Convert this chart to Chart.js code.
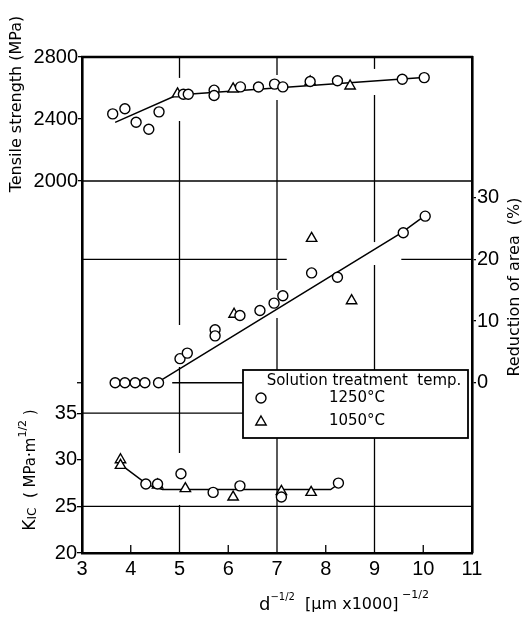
<!DOCTYPE html>
<html>
<head>
<meta charset="utf-8">
<script src="https://cdn.jsdelivr.net/npm/chart.js@4/dist/chart.umd.min.js"></script>
<style>
  body { margin: 0; background: #fff; }
  #wrap { width: 526px; height: 617px; }
</style>
</head>
<body>
<div id="wrap"><canvas id="chart"></canvas></div>
<script>
// tensile strength (MPa)
const ts1250X = [3.63, 3.88, 4.11, 4.37, 4.58, 5.08, 5.18, 5.71, 5.71, 6.25, 6.62, 6.95, 7.12, 7.68, 8.24, 9.57, 10.02];
const ts1250Y = [2433, 2466, 2379, 2334, 2446, 2560, 2560, 2586, 2552, 2607, 2606, 2625, 2607, 2642, 2647, 2656, 2667];
const ts1050X = [4.96, 6.10, 7.68, 8.50];
const ts1050Y = [2562, 2594, 2640, 2613];
const tsFitX = [3.68, 4.95, 10.0];
const tsFitY = [2378, 2555, 2668];

// reduction of area (%)
const ra1250X = [3.68, 3.88, 4.09, 4.29, 4.57, 5.01, 5.16, 5.73, 5.73, 6.24, 6.65, 6.94, 7.12, 7.71, 8.24, 9.59, 10.04];
const ra1250Y = [0, 0, 0, 0, 0, 3.9, 4.8, 8.6, 7.6, 10.9, 11.7, 12.9, 14.1, 17.8, 17.1, 24.3, 27.0];
const ra1050X = [6.12, 7.71, 8.53];
const ra1050Y = [11.1, 23.4, 13.3];
const raFitX = [4.6, 9.55, 10.0];
const raFitY = [0.3, 24.3, 26.9];

// KIC (MPa m^1/2)
const k1250X = [4.31, 4.55, 5.03, 5.69, 6.24, 7.09, 8.26];
const k1250Y = [27.4, 27.4, 28.5, 26.5, 27.2, 26.0, 27.5];
const k1050X = [3.79, 3.79, 4.55, 5.12, 6.10, 7.09, 7.70];
const k1050Y = [30.0, 29.4, 27.3, 26.9, 26.0, 26.6, 26.5];
const kFitX = [3.79, 4.35, 4.65, 8.10, 8.26];
const kFitY = [29.5, 27.3, 26.8, 26.8, 27.4];

// tick labels
const xTicks = [3, 4, 5, 6, 7, 8, 9, 10, 11];
const tsTicks = [2000, 2400, 2800];
const raTicks = [0, 10, 20, 30];
const kTicks = [20, 25, 30, 35];

const pts = (xs, ys) => xs.map((x, i) => ({x: x, y: ys[i]}));

// gridline pieces (the original lines stop short around the data)
const hGrid = [
  {axis: 'yTS', v: 2000, x0: 3, x1: 11},
  {axis: 'yRA', v: 20, x0: 3, x1: 7.2},
  {axis: 'yRA', v: 20, x0: 9.55, x1: 11},
  {axis: 'yRA', v: 0, x0: 4.85, x1: 6.4},
  {axis: 'yK', v: 35, x0: 3, x1: 6.4},
  {axis: 'yK', v: 25, x0: 3, x1: 11}
];
// vertical pieces in units of the tensile axis, which spans the full height
const vGrid = [
  {x: 5, segs: [[2800, 2665], [2387, 1071], [800, 245], [-90, -400]]},
  {x: 7, segs: [[2800, 2684], [2523, 1297], [1116, -400]]},
  {x: 9, segs: [[2800, 2723], [2555, 1606], [1458, -400]]}
];

const FONT = '"DejaVu Sans", sans-serif';
const tickFont = {family: '"Liberation Sans", Arial, sans-serif', size: 20};

function drawRuns(ctx, runs, cx, cy, rot) {
  ctx.save();
  ctx.translate(cx, cy);
  ctx.rotate(rot);
  ctx.textBaseline = 'middle';
  ctx.fillStyle = '#000';
  let w = 0;
  runs.forEach(r => {
    ctx.font = r.size + 'px ' + FONT;
    r.w = ctx.measureText(r.t).width;
    w += r.w;
  });
  let x = -w / 2;
  runs.forEach(r => {
    ctx.font = r.size + 'px ' + FONT;
    ctx.fillText(r.t, x, r.dy || 0);
    x += r.w;
  });
  ctx.restore();
}

function marker(ctx, style, x, y, r) {
  ctx.beginPath();
  if (style === 'circle') {
    ctx.arc(x, y, r, 0, Math.PI * 2);
  } else {
    let a = 0;
    ctx.moveTo(x + Math.sin(a) * r, y - Math.cos(a) * r);
    a += Math.PI * 2 / 3;
    ctx.lineTo(x + Math.sin(a) * r, y - Math.cos(a) * r);
    a += Math.PI * 2 / 3;
    ctx.lineTo(x + Math.sin(a) * r, y - Math.cos(a) * r);
    ctx.closePath();
  }
  ctx.fillStyle = '#fff';
  ctx.fill();
  ctx.lineWidth = 1.4;
  ctx.strokeStyle = '#000';
  ctx.stroke();
}

// the KIC axis takes no room of its own, but its labels must not be clipped
const kAxisPlugin = {
  id: 'kAxisRoom',
  afterLayout(chart) {
    chart.scales.yK.left = 0;
  }
};

const gridPlugin = {
  id: 'gridPieces',
  beforeDatasetsDraw(chart) {
    const ctx = chart.ctx, a = chart.chartArea, sx = chart.scales.x;
    ctx.save();
    ctx.strokeStyle = '#000';
    ctx.lineWidth = 1.3;
    hGrid.forEach(g => {
      const y = chart.scales[g.axis].getPixelForValue(g.v);
      ctx.beginPath();
      ctx.moveTo(sx.getPixelForValue(g.x0), y);
      ctx.lineTo(sx.getPixelForValue(g.x1), y);
      ctx.stroke();
    });
    vGrid.forEach(g => {
      const x = sx.getPixelForValue(g.x);
      g.segs.forEach(s => {
        ctx.beginPath();
        ctx.moveTo(x, chart.scales.yTS.getPixelForValue(s[0]));
        ctx.lineTo(x, chart.scales.yTS.getPixelForValue(s[1]));
        ctx.stroke();
      });
    });
    // short inward ticks on the bottom axis
    [4, 6, 8, 10].forEach(v => {
      const x = sx.getPixelForValue(v);
      ctx.beginPath();
      ctx.moveTo(x, a.bottom);
      ctx.lineTo(x, a.bottom - 8);
      ctx.stroke();
    });
    // small tick at 0 % on the left frame
    const y0 = chart.scales.yRA.getPixelForValue(0);
    ctx.beginPath();
    ctx.moveTo(a.left - 5, y0);
    ctx.lineTo(a.left, y0);
    ctx.stroke();
    // top frame
    ctx.lineWidth = 2.6;
    ctx.beginPath();
    ctx.moveTo(a.left - 1, a.top);
    ctx.lineTo(a.right + 1, a.top);
    ctx.stroke();
    ctx.restore();
  }
};

const legendPlugin = {
  id: 'boxLegend',
  afterDatasetsDraw(chart) {
    const ctx = chart.ctx, a = chart.chartArea;
    const L = a.left + 161, T = a.top + 313, W = 225, H = 68;
    ctx.save();
    ctx.fillStyle = '#fff';
    ctx.fillRect(L, T, W, H);
    ctx.strokeStyle = '#000';
    ctx.lineWidth = 1.8;
    ctx.strokeRect(L, T, W, H);
    ctx.fillStyle = '#000';
    ctx.textBaseline = 'middle';
    ctx.textAlign = 'center';
    ctx.font = '15px ' + FONT;
    ctx.fillText('Solution treatment  temp.', L + 121, T + 11);
    ctx.fillText('1250°C', L + 114, T + 28);
    ctx.fillText('1050°C', L + 114, T + 51);
    marker(ctx, 'circle', L + 18, T + 28, 5);
    marker(ctx, 'triangle', L + 18, T + 52, 6);
    ctx.restore();
  }
};

const titlePlugin = {
  id: 'axisTitles',
  afterDraw(chart) {
    const ctx = chart.ctx;
    drawRuns(ctx, [{t: 'Tensile strength (MPa)', size: 16}], 17, 104, -Math.PI / 2);
    drawRuns(ctx, [{t: 'Reduction of area  (%)', size: 16}], 515, 287, -Math.PI / 2);
    drawRuns(ctx, [
      {t: 'K', size: 17},
      {t: 'IC', size: 12, dy: 2},
      {t: '  ( MPa·m', size: 15},
      {t: '1/2', size: 11, dy: -8},
      {t: ' )', size: 15}
    ], 31, 470, -Math.PI / 2);
    drawRuns(ctx, [
      {t: 'd', size: 18},
      {t: '−1/2', size: 10, dy: -8},
      {t: '  [μm x1000]', size: 16},
      {t: ' −1/2', size: 11, dy: -10}
    ], 344, 605, 0);
  }
};

const circleSet = (label, data, axis) => ({
  label: label, data: data, yAxisID: axis,
  pointStyle: 'circle', pointRadius: 5, pointBorderWidth: 1.4,
  pointBackgroundColor: '#fff', pointBorderColor: '#000'
});
const triSet = (label, data, axis) => ({
  label: label, data: data, yAxisID: axis,
  pointStyle: 'triangle', pointRadius: 6, pointBorderWidth: 1.4,
  pointBackgroundColor: '#fff', pointBorderColor: '#000'
});
const fitSet = (data, axis) => ({
  label: 'fit', data: data, yAxisID: axis, showLine: true,
  pointRadius: 0, borderColor: '#000', borderWidth: 1.5
});

const ctx = document.getElementById('chart').getContext('2d');
new Chart(ctx, {
  type: 'scatter',
  data: {
    datasets: [
      circleSet('TS 1250°C', pts(ts1250X, ts1250Y), 'yTS'),
      triSet('TS 1050°C', pts(ts1050X, ts1050Y), 'yTS'),
      circleSet('RA 1250°C', pts(ra1250X, ra1250Y), 'yRA'),
      triSet('RA 1050°C', pts(ra1050X, ra1050Y), 'yRA'),
      circleSet('KIC 1250°C', pts(k1250X, k1250Y), 'yK'),
      triSet('KIC 1050°C', pts(k1050X, k1050Y), 'yK'),
      fitSet(pts(tsFitX, tsFitY), 'yTS'),
      fitSet(pts(raFitX, raFitY), 'yRA'),
      fitSet(pts(kFitX, kFitY), 'yK')
    ]
  },
  options: {
    responsive: true,
    maintainAspectRatio: false,
    animation: false,
    layout: {padding: {top: 57, left: 0, right: 0, bottom: 0}},
    plugins: {legend: {display: false}, tooltip: {enabled: false}},
    scales: {
      x: {
        type: 'linear', min: 3, max: 11,
        afterBuildTicks: s => { s.ticks = xTicks.map(v => ({value: v})); },
        afterFit: s => { s.height = 64; },
        ticks: {font: tickFont, color: '#000', padding: 4, maxRotation: 0, callback: v => String(v)},
        grid: {drawOnChartArea: false, drawTicks: false},
        border: {display: true, color: '#000', width: 2.6}
      },
      yTS: {
        type: 'linear', position: 'left', weight: 10, min: -400, max: 2800,
        afterBuildTicks: s => { s.ticks = tsTicks.map(v => ({value: v})); },
        afterFit: s => { s.width = 82; },
        ticks: {font: tickFont, color: '#000', padding: 0, callback: v => String(v)},
        grid: {drawOnChartArea: false, drawTicks: true, tickLength: 4, color: '#000', lineWidth: 1.3},
        border: {display: true, color: '#000', width: 2.6}
      },
      yK: {
        type: 'linear', position: 'left', weight: 0, min: 20, max: 73.2,
        afterBuildTicks: s => { s.ticks = kTicks.map(v => ({value: v})); },
        afterFit: s => { s.width = 0; },
        ticks: {font: tickFont, color: '#000', padding: 0, callback: v => String(v)},
        grid: {drawOnChartArea: false, drawTicks: true, tickLength: 5, color: '#000', lineWidth: 1.3},
        border: {display: false}
      },
      yRA: {
        type: 'linear', position: 'right', min: -27.6, max: 52.8,
        afterBuildTicks: s => { s.ticks = raTicks.map(v => ({value: v})); },
        afterFit: s => { s.width = 54; },
        ticks: {font: tickFont, color: '#000', padding: 1, callback: v => String(v)},
        grid: {drawOnChartArea: false, drawTicks: true, tickLength: 4, color: '#000', lineWidth: 1.3},
        border: {display: true, color: '#000', width: 2.6}
      }
    }
  },
  plugins: [kAxisPlugin, gridPlugin, legendPlugin, titlePlugin]
});
</script>
</body>
</html>
